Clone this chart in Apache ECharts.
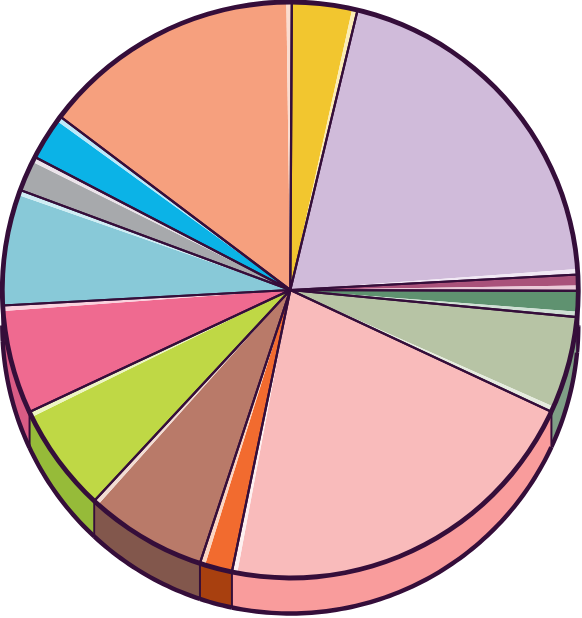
<!DOCTYPE html>
<html><head><meta charset="utf-8">
<style>html,body{margin:0;padding:0;background:#fff}#c{width:582px;height:618px}</style>
<script src="https://cdn.jsdelivr.net/npm/echarts@6/dist/echarts.min.js"></script>
</head><body><div id="c"></div>
<script>
const categories=['Yellow','Lilac','Plum','Green','Sage','Rose','Orange','Brown','Lime','Pink','Aqua','Gray','Blue','Salmon'];
const values=[3.67,20.39,0.91,1.45,5.44,21.31,1.83,6.84,6.11,6.11,6.5,2.0,2.64,14.8];
const topColors=['#F2C62F','#D0BBDA','#A9527A','#5F9270','#B7C4A5','#F9BBBB','#F26B2F','#B97A69','#BFD845','#EF6A90','#88C9D8','#A7A9AC','#0BB3E7','#F6A07E'];
const edgeColors=['#FBEDB5','#F1E8F4','#EAC9D8','#CFE0D4','#E6ECDF','#FDF0F0','#FBD5C2','#F2DCD3','#EEF5C4','#FAD2DE','#CFEDF4','#EBE3EA','#BDE9F9','#FBDCCF'];
const wallColors=['#D9B020','#B5A0C0','#8E4466','#4F7C5E','#7F9F86','#F99C9C','#A8400F','#82574C','#96BB39','#D95B85','#6FAAB8','#8D8F92','#0A97C4','#D9876A'];
const highlight=0.3, depth=35.5, cx=290.3, cy=290, R=288, dark='#350E3A', startTilt=0.3;
const total=values.reduce((a,b)=>a+b,0);
const mainData=[];
values.forEach((v,i)=>{
  mainData.push({name:categories[i],value:v-highlight,itemStyle:{color:topColors[i]}});
  mainData.push({name:categories[i]+' edge',value:highlight,itemStyle:{color:edgeColors[i]}});
});
const common={type:'pie',center:[cx,cy],startAngle:90-startTilt,clockwise:true,silent:true,animation:false,
  avoidLabelOverlap:false,label:{show:false},labelLine:{show:false},emphasis:{disabled:true},minShowLabelAngle:999};
function pt(deg,dy){const a=deg*Math.PI/180;return [cx+R*Math.sin(a),cy-R*Math.cos(a)+dy];}
function wall(params){
  const i=params.dataIndex;
  let from=startTilt+values.slice(0,i).reduce((a,b)=>a+b,0)/total*360;
  let to=from+values[i]/total*360;
  const lo=Math.max(from,90),hi=Math.min(to,270);
  if(hi<=lo) return {type:'group',children:[]};
  const n=Math.max(2,Math.ceil(hi-lo)),upper=[],lower=[];
  for(let k=0;k<=n;k++){const d=lo+(hi-lo)*k/n;upper.push(pt(d,0));lower.push(pt(d,depth));}
  return {type:'group',children:[
    {type:'polygon',shape:{points:upper.concat(lower.slice().reverse())},
     style:{fill:wallColors[i],stroke:dark,lineWidth:1.8}},
    {type:'polyline',shape:{points:lower},style:{fill:'none',stroke:dark,lineWidth:4.4}}
  ]};
}
const chart=echarts.init(document.getElementById('c'),null,{renderer:'canvas'});
chart.setOption({
  animation:false,
  series:[
    {type:'custom',coordinateSystem:'none',renderItem:wall,silent:true,z:1,animation:false,
     data:values.map((v,i)=>({name:categories[i],value:v}))},
    Object.assign({},common,{radius:[0,R],z:2,itemStyle:{borderWidth:0},data:mainData}),
    Object.assign({},common,{radius:[0,R],z:3,
      itemStyle:{color:'rgba(0,0,0,0)',borderColor:dark,borderWidth:2.2},
      data:values.map((v,i)=>({name:categories[i],value:v}))}),
    Object.assign({},common,{radius:[R-2.4,R+2.4],z:4,itemStyle:{color:dark,borderWidth:0},
      data:[{name:'rim',value:1}]})
  ]
});
</script></body></html>
